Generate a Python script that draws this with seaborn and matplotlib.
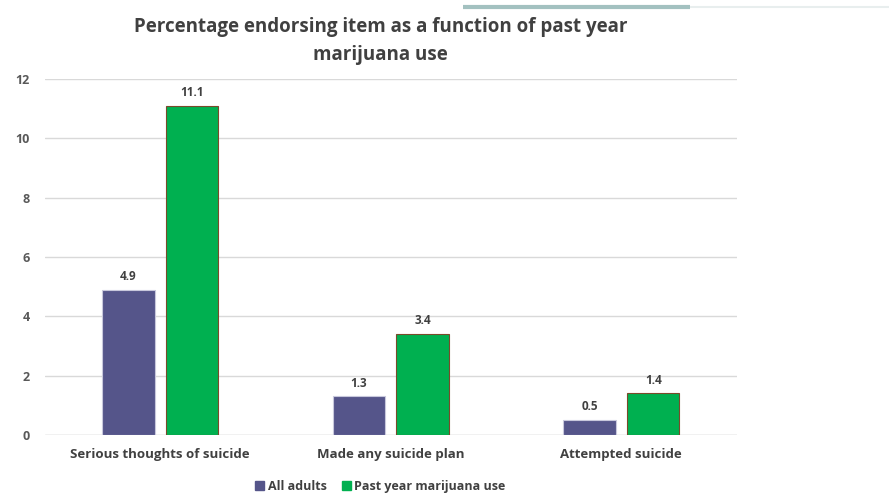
import pandas as pd
import numpy as np
import matplotlib.pyplot as plt
import seaborn as sns
from matplotlib.lines import Line2D

categories = ['Serious thoughts of suicide', 'Made any suicide plan', 'Attempted suicide']
all_adults = [4.9, 1.3, 0.5]
marijuana = [11.1, 3.4, 1.4]
groups = ['All adults', 'Past year marijuana use']

df = pd.DataFrame({
    'item': categories * 2,
    'group': [groups[0]] * 3 + [groups[1]] * 3,
    'pct': all_adults + marijuana,
})

sns.set_style('white')
plt.rcParams['font.family'] = ['Open Sans', 'DejaVu Sans']

palette = {groups[0]: '#55558a', groups[1]: '#00b050'}
text_col = '#595959'

fig = plt.figure(figsize=(8.89, 4.94), dpi=100)
ax = fig.add_axes([0.0506, 0.1194, 0.778, 0.7206])

sns.barplot(data=df, x='item', y='pct', hue='group', palette=palette,
            width=0.552, gap=0.174, ax=ax, legend=False, saturation=1)

edges = ['#c8c8dc'] * 3 + ['#7a4a2a'] * 3
for patch, ec in zip(ax.patches, edges):
    patch.set_edgecolor(ec)
    patch.set_linewidth(0.8)

for cont in ax.containers:
    ax.bar_label(cont, fmt='%.1f', padding=5, fontsize=8.5,
                 fontweight='bold', color='#404040')

ax.set_ylim(0, 12)
ax.set_xlim(-0.5, 2.5)
ax.set_yticks(np.arange(0, 13, 2))
ax.yaxis.grid(True, color='#d9d9d9', linewidth=1)
ax.set_axisbelow(True)
sns.despine(ax=ax, left=True, bottom=True, top=True, right=True)
ax.axhline(0, color='#d9d9d9', linewidth=1, zorder=0)
ax.set_xlabel('')
ax.set_ylabel('')
ax.tick_params(axis='both', length=0)
ax.tick_params(axis='y', pad=11)
ax.tick_params(axis='x', pad=9)
for lbl in ax.get_yticklabels():
    lbl.set_fontweight('bold')
    lbl.set_color(text_col)
    lbl.set_fontsize(9)
for lbl in ax.get_xticklabels():
    lbl.set_fontweight('bold')
    lbl.set_color('#404040')
    lbl.set_fontsize(9.5)

fig.text(0.428, 0.945, 'Percentage endorsing item as a function of past year',
         ha='center', va='center', fontsize=13.5, fontweight='bold', color='#404040')
fig.text(0.428, 0.888, 'marijuana use',
         ha='center', va='center', fontsize=13.5, fontweight='bold', color='#404040')

handles = [plt.Rectangle((0, 0), 1, 1, color=palette[g]) for g in groups]
fig.legend(handles, groups, loc='center', bbox_to_anchor=(0.428, 0.015),
           ncol=2, frameon=False, handlelength=0.7, handleheight=0.7,
           handletextpad=0.3, columnspacing=1.2,
           prop={'weight': 'bold', 'size': 9})
for t in fig.legends[0].get_texts():
    t.set_color('#404040')

# decorative bar at the top
fig.add_artist(Line2D([463 / 889, 690 / 889], [0.986, 0.986], color='#a3c1c0',
                      linewidth=3, solid_capstyle='butt'))
fig.add_artist(Line2D([690 / 889, 1.0], [0.986, 0.986], color='#e8eeee',
                      linewidth=1.5, solid_capstyle='butt'))

fig.savefig('out.png', dpi=100)
